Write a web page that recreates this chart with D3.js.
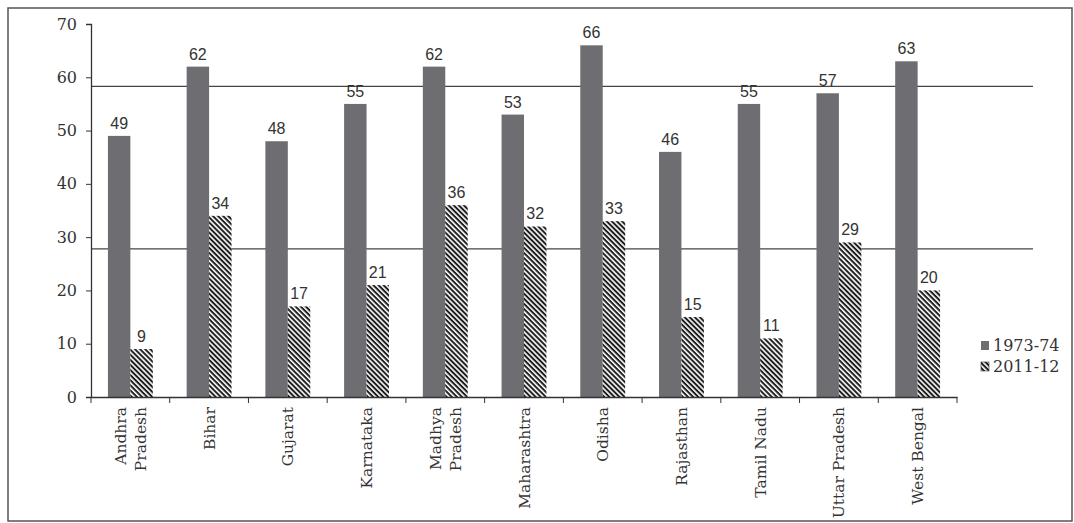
<!DOCTYPE html>
<html><head><meta charset="utf-8">
<script src="https://cdn.jsdelivr.net/npm/d3@7"></script>
<style>body{margin:0;background:#fff}svg{display:block}</style>
</head><body>
<svg id="c" width="1074" height="523"></svg>
<script>
const categories = ["Andhra Pradesh","Bihar","Gujarat","Karnataka","Madhya Pradesh","Maharashtra","Odisha","Rajasthan","Tamil Nadu","Uttar Pradesh","West Bengal"];
const categoryLines = [["Andhra","Pradesh"],["Bihar"],["Gujarat"],["Karnataka"],["Madhya","Pradesh"],["Maharashtra"],["Odisha"],["Rajasthan"],["Tamil Nadu"],["Uttar Pradesh"],["West Bengal"]];
const seriesNames = ["1973-74","2011-12"];
const values1973 = [49,62,48,55,62,53,66,46,55,57,63];
const values2011 = [9,34,17,21,36,32,33,15,11,29,20];
const referenceLines = [58.3,27.8];
const yTicks = [0,10,20,30,40,50,60,70];

const svg = d3.select("#c");
const M = {left:91, right:957, top:24, bottom:397};

// hatch pattern
const defs = svg.append("defs");
const pat = defs.append("pattern").attr("id","hatch").attr("patternUnits","userSpaceOnUse")
  .attr("width",3.6).attr("height",3.6).attr("patternTransform","rotate(45)");
pat.append("rect").attr("width",3.6).attr("height",3.6).attr("fill","#fff");
pat.append("rect").attr("width",3.6).attr("height",2).attr("fill","#1e1e1e");

// outer border
svg.append("rect").attr("x",8).attr("y",8).attr("width",1064).attr("height",513)
  .attr("fill","none").attr("stroke","#555").attr("stroke-width",1.5);

const x = d3.scaleBand().domain(categories).range([M.left,M.right]).paddingInner(0.43).paddingOuter(0.215);
const xs = d3.scaleBand().domain(seriesNames).range([0,x.bandwidth()]);
const y = d3.scaleLinear().domain([0,70]).range([M.bottom,M.top]);
const gap = (x.step()-x.bandwidth())/2;

// reference lines
svg.selectAll("line.ref").data(referenceLines).join("line").attr("class","ref")
  .attr("x1",M.left).attr("x2",1033).attr("y1",d=>y(d)).attr("y2",d=>y(d))
  .attr("stroke","#444").attr("stroke-width",1.3);

// bars
const data = categories.map((c,i)=>({c, v:[values1973[i],values2011[i]]}));
const g = svg.selectAll("g.grp").data(data).join("g").attr("class","grp")
  .attr("transform",d=>`translate(${x(d.c)},0)`);
g.selectAll("rect").data(d=>d.v.map((v,j)=>({s:seriesNames[j],v}))).join("rect")
  .attr("x",d=>xs(d.s)).attr("width",xs.bandwidth()).attr("y",d=>y(d.v)).attr("height",d=>y(0)-y(d.v))
  .attr("fill",(d,j)=>j===0?"#6e6e72":"url(#hatch)");
g.selectAll("text").data(d=>d.v.map((v,j)=>({s:seriesNames[j],v}))).join("text")
  .attr("x",d=>xs(d.s)+xs.bandwidth()/2).attr("y",d=>y(d.v)-7).attr("text-anchor","middle")
  .attr("font-family","Liberation Sans, Arial, sans-serif").attr("font-size",16).attr("fill","#333")
  .text(d=>d.v);

// y axis
const ya = svg.append("g").attr("transform",`translate(${M.left},0)`)
  .call(d3.axisLeft(y).tickValues(yTicks).tickSize(5).tickPadding(9));
ya.select(".domain").attr("stroke","#333").attr("stroke-width",1.3);
ya.selectAll(".tick line").attr("stroke","#333");
ya.selectAll("text").attr("font-family","DejaVu Serif, serif").attr("font-size",16).attr("fill","#333");

// x axis
const xa = svg.append("g").attr("transform",`translate(0,${M.bottom})`)
  .call(d3.axisBottom(x).tickSize(0).tickFormat(""));
xa.select(".domain").attr("stroke","#333").attr("stroke-width",1.3);
const bounds = categories.map(c=>x(c)-gap).concat([x(categories[categories.length-1])+x.bandwidth()+gap]);
xa.selectAll("line.bt").data(bounds).join("line").attr("class","bt")
  .attr("x1",d=>d).attr("x2",d=>d).attr("y1",0).attr("y2",6).attr("stroke","#333");

// category labels
const lg = svg.selectAll("g.cl").data(categories).join("g").attr("class","cl")
  .attr("transform",(d)=>`translate(${x(d)+x.bandwidth()/2},${M.bottom+10}) rotate(-90)`);
lg.each(function(d,i){
  const lines = categoryLines[i];
  const n = lines.length;
  lines.forEach((ln,k)=>{
    d3.select(this).append("text").attr("x",0).attr("y",(k-(n-1)/2)*20+5.5)
      .attr("text-anchor","end").attr("font-family","DejaVu Serif, serif").attr("font-size",15.5)
      .attr("fill","#333").text(ln);
  });
});

// legend
const leg = svg.append("g").attr("transform","translate(981,341)");
seriesNames.forEach((s,i)=>{
  leg.append("rect").attr("x",0).attr("y",i*21).attr("width",8).attr("height",9)
    .attr("fill",i===0?"#6e6e72":"url(#hatch)").attr("stroke",i===0?"none":"#333").attr("stroke-width",0.6);
  leg.append("text").attr("x",12).attr("y",i*21+10).attr("font-family","DejaVu Serif, serif")
    .attr("font-size",16).attr("fill","#333").text(s);
});
</script>
</body></html>
